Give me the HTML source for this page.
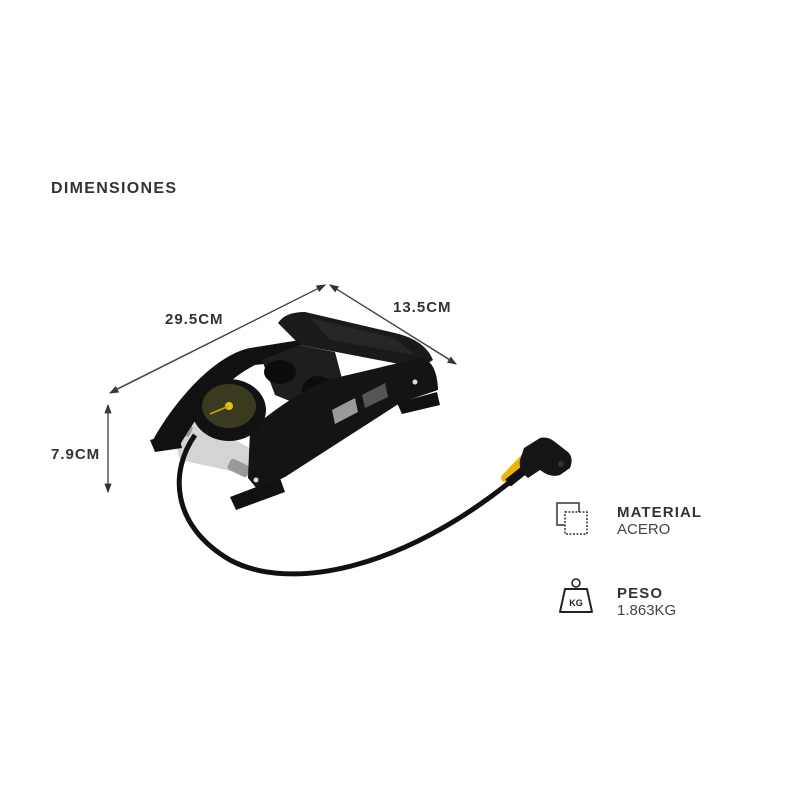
<!DOCTYPE html>
<html><head><style>
body{margin:0;width:800px;height:800px;background:#fff;overflow:hidden;font-family:"Liberation Sans",sans-serif}
.t{position:absolute;font-weight:bold;color:#333;font-size:15px;letter-spacing:0.6px}
.n{position:absolute;color:#444;font-size:15px}
</style></head><body>
<div class="t" style="left:51px;top:180px;font-size:16px;letter-spacing:1.3px">DIMENSIONES</div>
<div class="t" style="left:165px;top:311px;font-size:15px;letter-spacing:1px">29.5CM</div>
<div class="t" style="left:393px;top:299px;font-size:15px;letter-spacing:1px">13.5CM</div>
<div class="t" style="left:51px;top:446px;font-size:15px;letter-spacing:1px">7.9CM</div>
<div class="t" style="left:617px;top:504px;letter-spacing:1.1px">MATERIAL</div>
<div class="n" style="left:617px;top:521px;">ACERO</div>
<div class="t" style="left:617px;top:585px;letter-spacing:1.1px">PESO</div>
<div class="n" style="left:617px;top:602px;">1.863KG</div>
<svg width="800" height="800" style="position:absolute;left:0;top:0">
<defs><marker id="a" markerWidth="8" markerHeight="8" refX="7" refY="4" orient="auto"><path d="M0,1 L8,4 L0,7z" fill="#333"/></marker></defs>
<g stroke="#444" stroke-width="1.2" fill="none">
<line x1="325" y1="285" x2="110" y2="393" marker-end="url(#a)"/>
<line x1="113" y1="391" x2="325" y2="285" marker-end="url(#a)"/>
<line x1="330" y1="285" x2="456" y2="364" marker-end="url(#a)"/>
<line x1="452" y1="361" x2="330" y2="285" marker-end="url(#a)"/>
<line x1="108" y1="492" x2="108" y2="405" marker-end="url(#a)"/>
<line x1="108" y1="408" x2="108" y2="492" marker-end="url(#a)"/>
</g>
<polygon points="170,425 190,415 262,455 250,475 180,460" fill="#d2d4d6"/>
<rect x="172" y="422" width="20" height="12" rx="3" fill="#999" transform="rotate(25 182 428)"/>
<rect x="228" y="462" width="22" height="12" rx="3" fill="#999" transform="rotate(25 239 468)"/>
<path d="M153,440 C175,400 215,355 250,348 L300,340 L300,360 L255,365 C225,380 200,410 180,445 Z" fill="#111"/>
<polygon points="262,360 300,345 335,352 345,390 312,410 275,395" fill="#1e1e1e"/>
<ellipse cx="280" cy="372" rx="16" ry="12" fill="#0c0c0c"/>
<ellipse cx="318" cy="390" rx="16" ry="14" fill="#0c0c0c"/>
<path d="M278,323 Q285,312 305,312 L395,333 Q425,340 433,360 L420,368 L300,345 Z" fill="#1a1a1a"/>
<polygon points="310,318 395,338 415,355 330,340" fill="#262626"/>
<path d="M250,430 C280,405 310,385 335,378 L420,358 Q437,360 438,390 L400,403 L285,477 L258,490 L248,478 Z" fill="#141414"/>
<polygon points="332,410 355,398 358,412 335,424" fill="#9a9a9a"/>
<polygon points="362,395 385,383 388,397 365,408" fill="#555"/>
<polygon points="150,440 178,432 182,448 155,452" fill="#111"/>
<polygon points="230,497 280,478 285,492 236,510" fill="#111"/>
<polygon points="397,403 437,392 440,405 402,414" fill="#111"/>
<circle cx="415" cy="382" r="2.5" fill="#ddd"/>
<circle cx="256" cy="480" r="2.5" fill="#ddd"/>
<ellipse cx="229" cy="410" rx="37" ry="31" fill="#111"/>
<ellipse cx="229" cy="406" rx="27" ry="22" fill="#3a3a1e"/>
<circle cx="229" cy="406" r="4" fill="#e8c300"/>
<line x1="229" y1="406" x2="210" y2="414" stroke="#c8a800" stroke-width="1.5"/>
<path d="M195,435 C170,470 170,525 230,560 C290,592 400,570 510,482" stroke="#111" stroke-width="5" fill="none"/>
<line x1="505" y1="478" x2="524" y2="458" stroke="#f0b400" stroke-width="8" stroke-linecap="round"/>
<line x1="508" y1="483" x2="528" y2="467" stroke="#111" stroke-width="9"/>
<path d="M524,448 L540,438 Q548,436 555,442 L568,452 Q574,458 570,468 L560,475 Q550,478 540,470 L528,478 Q518,470 520,460 Z" fill="#151515"/>
<circle cx="561" cy="464" r="3" fill="#333"/>
<rect x="557" y="503" width="22" height="22" fill="none" stroke="#333" stroke-width="1.5"/>
<rect x="565" y="512" width="22" height="22" fill="#fff" stroke="#333" stroke-width="1.5" stroke-dasharray="2 1.5"/>
<circle cx="576" cy="583" r="4" fill="none" stroke="#222" stroke-width="1.5"/>
<path d="M565,589 L587,589 L592,612 L560,612 Z" fill="none" stroke="#222" stroke-width="2" stroke-linejoin="round"/>
<text x="576" y="606" font-size="9" font-weight="bold" text-anchor="middle" fill="#222" font-family="Liberation Sans">KG</text>
</svg>
</body></html>
